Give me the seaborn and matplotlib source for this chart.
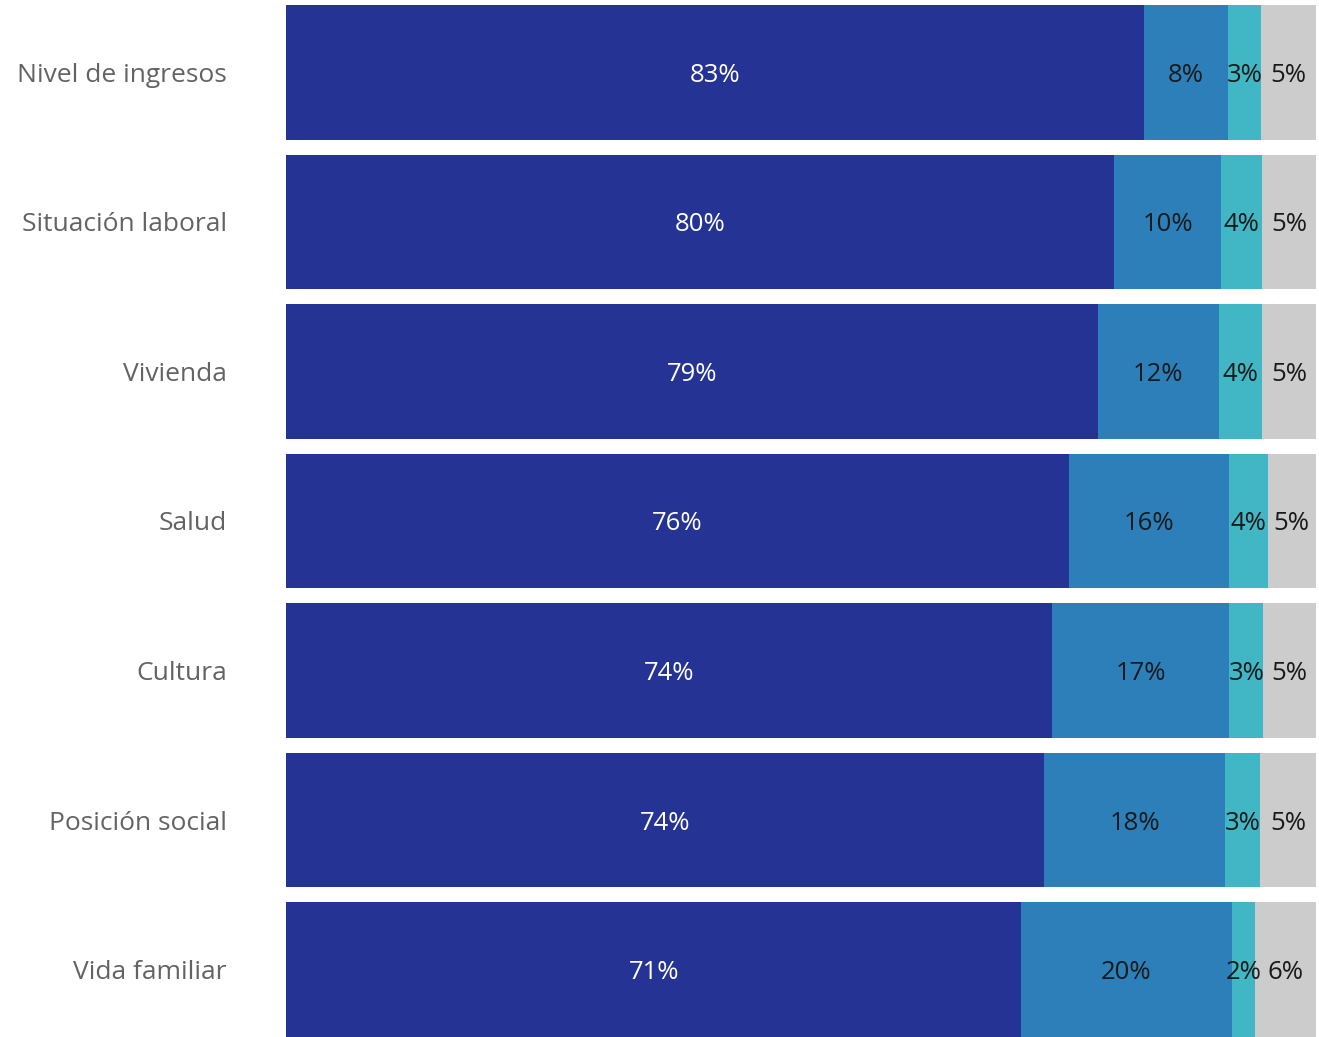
import numpy as np
import pandas as pd
import matplotlib.pyplot as plt
import seaborn as sns

# datos (porcentajes)
categorias = ['Nivel de ingresos', 'Situación laboral', 'Vivienda', 'Salud',
              'Cultura', 'Posición social', 'Vida familiar']
seg_1 = [83.3, 80.4, 78.8, 76.0, 74.4, 73.6, 71.4]
seg_2 = [8.2, 10.4, 11.8, 15.6, 17.2, 17.6, 20.4]
seg_3 = [3.2, 4.0, 4.2, 3.7, 3.3, 3.4, 2.3]
seg_4 = [5.3, 5.2, 5.2, 4.7, 5.1, 5.4, 5.9]

colores = ['#253494', '#2c7fb8', '#41b6c4', '#cccccc']
color_texto = ['white', '#1a1a1a', '#1a1a1a', '#1a1a1a']

sns.set_theme(style='white')
plt.rcParams['font.family'] = ['Open Sans', 'DejaVu Sans']

valores = np.array([seg_1, seg_2, seg_3, seg_4]).T
acumulado = valores.cumsum(axis=1)

fig = plt.figure(figsize=(13.19, 10.37), dpi=100)
ax = fig.add_axes([286 / 1319, 0, 1030 / 1319, 1 - 5 / 1037])

# barras apiladas: se dibuja de la suma total hacia atrás
for j in reversed(range(4)):
    df = pd.DataFrame({'cat': categorias, 'val': acumulado[:, j]})
    sns.barplot(data=df, x='val', y='cat', orient='h', color=colores[j],
                width=0.9, saturation=1, ax=ax, edgecolor='none')

for i in range(len(categorias)):
    for j in range(4):
        centro = acumulado[i, j] - valores[i, j] / 2
        ax.text(centro, i, f'{valores[i, j]:.0f}%', ha='center', va='center_baseline',
                fontsize=18.5, color=color_texto[j])

ax.set_xlim(0, 100)
ax.set_ylim(6.45, -0.45)
ax.set_xlabel('')
ax.set_ylabel('')
ax.set_xticks([])
ax.tick_params(axis='y', length=0, pad=42.5, labelsize=19, labelcolor='#636363')
for lab in ax.get_yticklabels():
    lab.set_verticalalignment('center_baseline')
sns.despine(left=True, bottom=True)

fig.savefig('out.png', dpi=100)
